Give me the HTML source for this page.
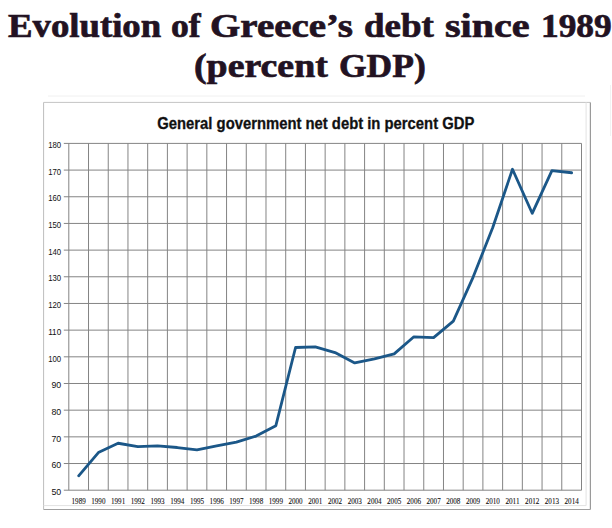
<!DOCTYPE html>
<html><head><meta charset="utf-8"><style>
html,body{margin:0;padding:0;background:#fff;width:612px;height:528px;overflow:hidden;position:relative}
.w{position:absolute;transform-origin:0 0;font-family:"Liberation Serif",serif;font-weight:bold;font-size:34px;line-height:40px;color:#221222;white-space:nowrap;-webkit-text-stroke:0.7px #221222}
</style></head><body>
<span class="w" style="left:7.50px;top:6.1px;transform:scaleX(1.0810)">Evolution</span>
<span class="w" style="left:170.65px;top:6.1px;transform:scaleX(1.0464)">of</span>
<span class="w" style="left:209.85px;top:6.1px;transform:scaleX(1.1463)">Greece’s</span>
<span class="w" style="left:364.01px;top:6.1px;transform:scaleX(1.0875)">debt</span>
<span class="w" style="left:444.50px;top:6.1px;transform:scaleX(1.1792)">since</span>
<span class="w" style="left:540.52px;top:6.1px;transform:scaleX(1.0400)">1989</span>
<span class="w" style="left:193.69px;top:46.1px;transform:scaleX(1.1133)">(percent</span>
<span class="w" style="left:339.16px;top:46.1px;transform:scaleX(1.0444)">GDP)</span>
<svg width="612" height="528" viewBox="0 0 612 528" style="position:absolute;left:0;top:0"><line x1="48" y1="96" x2="585" y2="96" stroke="#f0f0f0" stroke-width="1"/><line x1="610.5" y1="85" x2="610.5" y2="136" stroke="#f2f2f2" stroke-width="1"/><line x1="43.6" y1="102.4" x2="590.4" y2="102.4" stroke="#c4c4c4" stroke-width="1"/><line x1="43.6" y1="102.4" x2="43.6" y2="509.5" stroke="#bdbdbd" stroke-width="1"/><line x1="590.4" y1="102.4" x2="590.4" y2="509.5" stroke="#9a9a9a" stroke-width="1.2"/><line x1="43.6" y1="509.5" x2="590.4" y2="509.5" stroke="#a0a0a0" stroke-width="1.2"/><line x1="586.1" y1="102.4" x2="586.1" y2="505.6" stroke="#e2e2e2" stroke-width="1"/><line x1="43.6" y1="505.6" x2="586.1" y2="505.6" stroke="#e2e2e2" stroke-width="1"/><line x1="63.8" y1="143.40" x2="581.5" y2="143.40" stroke="#848484" stroke-width="1"/><line x1="63.8" y1="170.08" x2="581.5" y2="170.08" stroke="#848484" stroke-width="1"/><line x1="63.8" y1="196.75" x2="581.5" y2="196.75" stroke="#848484" stroke-width="1"/><line x1="63.8" y1="223.43" x2="581.5" y2="223.43" stroke="#848484" stroke-width="1"/><line x1="63.8" y1="250.11" x2="581.5" y2="250.11" stroke="#848484" stroke-width="1"/><line x1="63.8" y1="276.78" x2="581.5" y2="276.78" stroke="#848484" stroke-width="1"/><line x1="63.8" y1="303.46" x2="581.5" y2="303.46" stroke="#848484" stroke-width="1"/><line x1="63.8" y1="330.14" x2="581.5" y2="330.14" stroke="#848484" stroke-width="1"/><line x1="63.8" y1="356.82" x2="581.5" y2="356.82" stroke="#848484" stroke-width="1"/><line x1="63.8" y1="383.49" x2="581.5" y2="383.49" stroke="#848484" stroke-width="1"/><line x1="63.8" y1="410.17" x2="581.5" y2="410.17" stroke="#848484" stroke-width="1"/><line x1="63.8" y1="436.85" x2="581.5" y2="436.85" stroke="#848484" stroke-width="1"/><line x1="63.8" y1="463.52" x2="581.5" y2="463.52" stroke="#848484" stroke-width="1"/><line x1="63.8" y1="490.20" x2="581.5" y2="490.20" stroke="#848484" stroke-width="1"/><line x1="68.80" y1="143.4" x2="68.80" y2="490.2" stroke="#848484" stroke-width="1"/><line x1="88.52" y1="143.4" x2="88.52" y2="490.2" stroke="#848484" stroke-width="1"/><line x1="108.24" y1="143.4" x2="108.24" y2="490.2" stroke="#848484" stroke-width="1"/><line x1="127.96" y1="143.4" x2="127.96" y2="490.2" stroke="#848484" stroke-width="1"/><line x1="147.68" y1="143.4" x2="147.68" y2="490.2" stroke="#848484" stroke-width="1"/><line x1="167.40" y1="143.4" x2="167.40" y2="490.2" stroke="#848484" stroke-width="1"/><line x1="187.12" y1="143.4" x2="187.12" y2="490.2" stroke="#848484" stroke-width="1"/><line x1="206.83" y1="143.4" x2="206.83" y2="490.2" stroke="#848484" stroke-width="1"/><line x1="226.55" y1="143.4" x2="226.55" y2="490.2" stroke="#848484" stroke-width="1"/><line x1="246.27" y1="143.4" x2="246.27" y2="490.2" stroke="#848484" stroke-width="1"/><line x1="265.99" y1="143.4" x2="265.99" y2="490.2" stroke="#848484" stroke-width="1"/><line x1="285.71" y1="143.4" x2="285.71" y2="490.2" stroke="#848484" stroke-width="1"/><line x1="305.43" y1="143.4" x2="305.43" y2="490.2" stroke="#848484" stroke-width="1"/><line x1="325.15" y1="143.4" x2="325.15" y2="490.2" stroke="#848484" stroke-width="1"/><line x1="344.87" y1="143.4" x2="344.87" y2="490.2" stroke="#848484" stroke-width="1"/><line x1="364.59" y1="143.4" x2="364.59" y2="490.2" stroke="#848484" stroke-width="1"/><line x1="384.31" y1="143.4" x2="384.31" y2="490.2" stroke="#848484" stroke-width="1"/><line x1="404.03" y1="143.4" x2="404.03" y2="490.2" stroke="#848484" stroke-width="1"/><line x1="423.75" y1="143.4" x2="423.75" y2="490.2" stroke="#848484" stroke-width="1"/><line x1="443.47" y1="143.4" x2="443.47" y2="490.2" stroke="#848484" stroke-width="1"/><line x1="463.18" y1="143.4" x2="463.18" y2="490.2" stroke="#848484" stroke-width="1"/><line x1="482.90" y1="143.4" x2="482.90" y2="490.2" stroke="#848484" stroke-width="1"/><line x1="502.62" y1="143.4" x2="502.62" y2="490.2" stroke="#848484" stroke-width="1"/><line x1="522.34" y1="143.4" x2="522.34" y2="490.2" stroke="#848484" stroke-width="1"/><line x1="542.06" y1="143.4" x2="542.06" y2="490.2" stroke="#848484" stroke-width="1"/><line x1="561.78" y1="143.4" x2="561.78" y2="490.2" stroke="#848484" stroke-width="1"/><line x1="581.50" y1="143.4" x2="581.50" y2="490.2" stroke="#848484" stroke-width="1"/><text x="61.2" y="494.90" text-anchor="end" font-family="Liberation Sans" font-size="8.8" fill="#111">50</text><text x="61.2" y="468.22" text-anchor="end" font-family="Liberation Sans" font-size="8.8" fill="#111">60</text><text x="61.2" y="441.55" text-anchor="end" font-family="Liberation Sans" font-size="8.8" fill="#111">70</text><text x="61.2" y="414.87" text-anchor="end" font-family="Liberation Sans" font-size="8.8" fill="#111">80</text><text x="61.2" y="388.19" text-anchor="end" font-family="Liberation Sans" font-size="8.8" fill="#111">90</text><text x="61.2" y="361.52" text-anchor="end" font-family="Liberation Sans" font-size="8.8" fill="#111" textLength="13" lengthAdjust="spacingAndGlyphs">100</text><text x="61.2" y="334.84" text-anchor="end" font-family="Liberation Sans" font-size="8.8" fill="#111" textLength="13" lengthAdjust="spacingAndGlyphs">110</text><text x="61.2" y="308.16" text-anchor="end" font-family="Liberation Sans" font-size="8.8" fill="#111" textLength="13" lengthAdjust="spacingAndGlyphs">120</text><text x="61.2" y="281.48" text-anchor="end" font-family="Liberation Sans" font-size="8.8" fill="#111" textLength="13" lengthAdjust="spacingAndGlyphs">130</text><text x="61.2" y="254.81" text-anchor="end" font-family="Liberation Sans" font-size="8.8" fill="#111" textLength="13" lengthAdjust="spacingAndGlyphs">140</text><text x="61.2" y="228.13" text-anchor="end" font-family="Liberation Sans" font-size="8.8" fill="#111" textLength="13" lengthAdjust="spacingAndGlyphs">150</text><text x="61.2" y="201.45" text-anchor="end" font-family="Liberation Sans" font-size="8.8" fill="#111" textLength="13" lengthAdjust="spacingAndGlyphs">160</text><text x="61.2" y="174.78" text-anchor="end" font-family="Liberation Sans" font-size="8.8" fill="#111" textLength="13" lengthAdjust="spacingAndGlyphs">170</text><text x="61.2" y="148.10" text-anchor="end" font-family="Liberation Sans" font-size="8.8" fill="#111" textLength="13" lengthAdjust="spacingAndGlyphs">180</text><text x="78.66" y="503.6" text-anchor="middle" font-family="Liberation Serif" font-size="7.8" fill="#111" stroke="#111" stroke-width="0.1" textLength="14.2" lengthAdjust="spacingAndGlyphs">1989</text><text x="98.38" y="503.6" text-anchor="middle" font-family="Liberation Serif" font-size="7.8" fill="#111" stroke="#111" stroke-width="0.1" textLength="14.2" lengthAdjust="spacingAndGlyphs">1990</text><text x="118.10" y="503.6" text-anchor="middle" font-family="Liberation Serif" font-size="7.8" fill="#111" stroke="#111" stroke-width="0.1" textLength="14.2" lengthAdjust="spacingAndGlyphs">1991</text><text x="137.82" y="503.6" text-anchor="middle" font-family="Liberation Serif" font-size="7.8" fill="#111" stroke="#111" stroke-width="0.1" textLength="14.2" lengthAdjust="spacingAndGlyphs">1992</text><text x="157.54" y="503.6" text-anchor="middle" font-family="Liberation Serif" font-size="7.8" fill="#111" stroke="#111" stroke-width="0.1" textLength="14.2" lengthAdjust="spacingAndGlyphs">1993</text><text x="177.26" y="503.6" text-anchor="middle" font-family="Liberation Serif" font-size="7.8" fill="#111" stroke="#111" stroke-width="0.1" textLength="14.2" lengthAdjust="spacingAndGlyphs">1994</text><text x="196.98" y="503.6" text-anchor="middle" font-family="Liberation Serif" font-size="7.8" fill="#111" stroke="#111" stroke-width="0.1" textLength="14.2" lengthAdjust="spacingAndGlyphs">1995</text><text x="216.69" y="503.6" text-anchor="middle" font-family="Liberation Serif" font-size="7.8" fill="#111" stroke="#111" stroke-width="0.1" textLength="14.2" lengthAdjust="spacingAndGlyphs">1996</text><text x="236.41" y="503.6" text-anchor="middle" font-family="Liberation Serif" font-size="7.8" fill="#111" stroke="#111" stroke-width="0.1" textLength="14.2" lengthAdjust="spacingAndGlyphs">1997</text><text x="256.13" y="503.6" text-anchor="middle" font-family="Liberation Serif" font-size="7.8" fill="#111" stroke="#111" stroke-width="0.1" textLength="14.2" lengthAdjust="spacingAndGlyphs">1998</text><text x="275.85" y="503.6" text-anchor="middle" font-family="Liberation Serif" font-size="7.8" fill="#111" stroke="#111" stroke-width="0.1" textLength="14.2" lengthAdjust="spacingAndGlyphs">1999</text><text x="295.57" y="503.6" text-anchor="middle" font-family="Liberation Serif" font-size="7.8" fill="#111" stroke="#111" stroke-width="0.1" textLength="14.2" lengthAdjust="spacingAndGlyphs">2000</text><text x="315.29" y="503.6" text-anchor="middle" font-family="Liberation Serif" font-size="7.8" fill="#111" stroke="#111" stroke-width="0.1" textLength="14.2" lengthAdjust="spacingAndGlyphs">2001</text><text x="335.01" y="503.6" text-anchor="middle" font-family="Liberation Serif" font-size="7.8" fill="#111" stroke="#111" stroke-width="0.1" textLength="14.2" lengthAdjust="spacingAndGlyphs">2002</text><text x="354.73" y="503.6" text-anchor="middle" font-family="Liberation Serif" font-size="7.8" fill="#111" stroke="#111" stroke-width="0.1" textLength="14.2" lengthAdjust="spacingAndGlyphs">2003</text><text x="374.45" y="503.6" text-anchor="middle" font-family="Liberation Serif" font-size="7.8" fill="#111" stroke="#111" stroke-width="0.1" textLength="14.2" lengthAdjust="spacingAndGlyphs">2004</text><text x="394.17" y="503.6" text-anchor="middle" font-family="Liberation Serif" font-size="7.8" fill="#111" stroke="#111" stroke-width="0.1" textLength="14.2" lengthAdjust="spacingAndGlyphs">2005</text><text x="413.89" y="503.6" text-anchor="middle" font-family="Liberation Serif" font-size="7.8" fill="#111" stroke="#111" stroke-width="0.1" textLength="14.2" lengthAdjust="spacingAndGlyphs">2006</text><text x="433.61" y="503.6" text-anchor="middle" font-family="Liberation Serif" font-size="7.8" fill="#111" stroke="#111" stroke-width="0.1" textLength="14.2" lengthAdjust="spacingAndGlyphs">2007</text><text x="453.32" y="503.6" text-anchor="middle" font-family="Liberation Serif" font-size="7.8" fill="#111" stroke="#111" stroke-width="0.1" textLength="14.2" lengthAdjust="spacingAndGlyphs">2008</text><text x="473.04" y="503.6" text-anchor="middle" font-family="Liberation Serif" font-size="7.8" fill="#111" stroke="#111" stroke-width="0.1" textLength="14.2" lengthAdjust="spacingAndGlyphs">2009</text><text x="492.76" y="503.6" text-anchor="middle" font-family="Liberation Serif" font-size="7.8" fill="#111" stroke="#111" stroke-width="0.1" textLength="14.2" lengthAdjust="spacingAndGlyphs">2010</text><text x="512.48" y="503.6" text-anchor="middle" font-family="Liberation Serif" font-size="7.8" fill="#111" stroke="#111" stroke-width="0.1" textLength="14.2" lengthAdjust="spacingAndGlyphs">2011</text><text x="532.20" y="503.6" text-anchor="middle" font-family="Liberation Serif" font-size="7.8" fill="#111" stroke="#111" stroke-width="0.1" textLength="14.2" lengthAdjust="spacingAndGlyphs">2012</text><text x="551.92" y="503.6" text-anchor="middle" font-family="Liberation Serif" font-size="7.8" fill="#111" stroke="#111" stroke-width="0.1" textLength="14.2" lengthAdjust="spacingAndGlyphs">2013</text><text x="571.64" y="503.6" text-anchor="middle" font-family="Liberation Serif" font-size="7.8" fill="#111" stroke="#111" stroke-width="0.1" textLength="14.2" lengthAdjust="spacingAndGlyphs">2014</text><polyline points="78.66,475.79 98.38,452.59 118.10,443.25 137.82,446.72 157.54,445.92 177.26,447.52 196.98,449.92 216.69,445.92 236.41,442.18 256.13,436.05 275.85,425.64 295.57,347.48 315.29,346.94 335.01,352.55 354.73,362.95 374.45,358.95 394.17,353.88 413.89,336.81 433.61,337.61 453.32,321.07 473.04,277.32 492.76,227.43 512.48,169.28 532.20,213.29 551.92,170.61 571.64,172.74" fill="none" stroke="#1b5788" stroke-width="2.8" stroke-linejoin="round" stroke-linecap="round"/><text x="157.3" y="128.8" textLength="317" lengthAdjust="spacingAndGlyphs" font-family="Liberation Sans" font-weight="bold" font-size="16" fill="#111" stroke="#111" stroke-width="0.3">General government net debt in percent GDP</text></svg>
</body></html>
